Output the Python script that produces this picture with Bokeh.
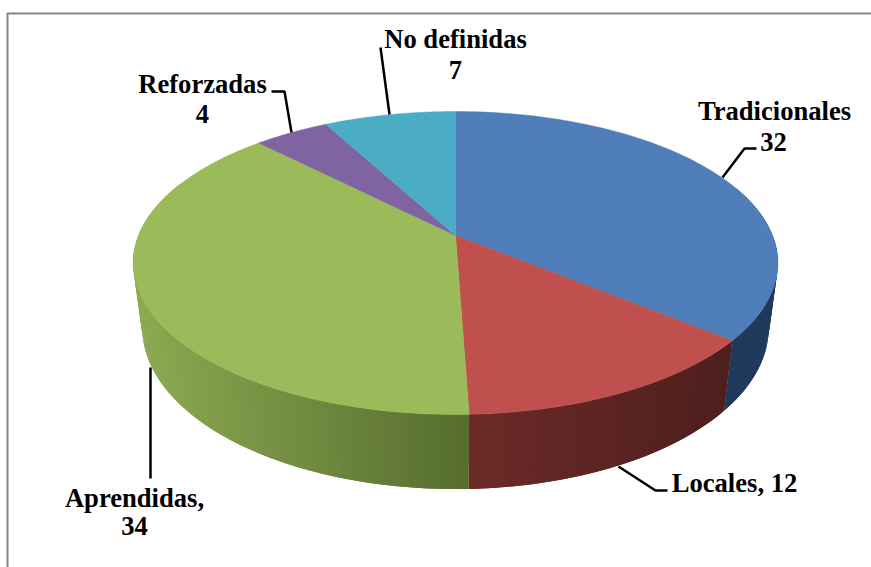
import numpy as np
from bokeh.plotting import figure
from bokeh.models import Range1d
from bokeh.core.properties import value
from bokeh.embed import file_html
from bokeh.resources import INLINE

# ---- data
categories = ["Tradicionales", "Locales", "Aprendidas", "Reforzadas", "No definidas"]
values = [32, 12, 34, 4, 7]
top_colors = ["#4F7EBA", "#BF504D", "#9BBA59", "#8064A2", "#4BACC6"]
wall_from = ["#1F3655", "#6B2A28", "#8DAA52", "#4A3A60", "#2B6575"]   # colour at the left end of a wall
wall_to = ["#203A5C", "#4E1F1D", "#566D2E", "#4A3A60", "#2B6575"]     # colour at the right end of a wall

# ---- label texts and placement (image pixels)
label_lines = ["Tradicionales", "32", "Locales, 12", "Aprendidas,", "34", "Reforzadas", "4", "No definidas", "7"]
label_x = [774, 773, 734, 134, 134, 202, 202, 455, 455]
label_y = [110, 141, 482, 497, 525, 83, 113, 38, 69]
leader_x = [[271, 284, 291], [380, 389], [756, 744, 722], [667, 655, 618], [150, 150]]
leader_y = [[91, 91, 132], [47, 114], [148, 148, 177], [490, 490, 466], [367, 478]]

W, H = 871, 567

# pie projection parameters (perspective view of a disc)
CX, K = 455.0, 0.1815
TOP_A, TOP_B, TOP_CY = 317.0, 146.5, 235.0
BOT_A, BOT_B, BOT_CY = 308.0, 156.0, 298.0


def project(theta, a, b, cy):
    u, v = np.sin(theta), np.cos(theta)
    d = 1 + K * v
    return CX + a * u / d, cy - b * v / d


def hex_rgb(c):
    return np.array([int(c[i:i + 2], 16) for i in (1, 3, 5)], dtype=float)


p = figure(width=W, height=H, output_backend="svg", toolbar_location=None,
           x_range=Range1d(0, W), y_range=Range1d(H, 0),
           min_border=0, outline_line_color=None, background_fill_color="white")
p.axis.visible = False
p.grid.visible = False

# frame of the chart area
p.line([7, 7, W], [H, 13, 13], line_color="#868686", line_width=2)

total = sum(values)
edges = 2 * np.pi * np.cumsum([0] + values) / total

# side walls: narrow quads shaded along x, each overlapped by the next
xs, ys, cols = [], [], []
for i in range(len(values)):
    n = max(2, int(np.degrees(edges[i + 1] - edges[i])))
    t = np.linspace(edges[i], edges[i + 1], n + 1)
    x0, y0 = project(t, TOP_A, TOP_B, TOP_CY)
    x1, y1 = project(t, BOT_A, BOT_B, BOT_CY)
    lo, hi = min(x0.min(), x1.min()), max(x0.max(), x1.max())
    ca, cb = hex_rgb(wall_from[i]), hex_rgb(wall_to[i])
    for j in range(n):
        if np.cos(t[j]) > 0.35 and np.cos(t[j + 1]) > 0.35:
            continue
        k = min(j + 2, n)
        f = ((x0[j] + x0[j + 1]) / 2 - lo) / (hi - lo)
        c = ca + (cb - ca) * f
        xs.append([x0[j], x0[k], x1[k], x1[j]])
        ys.append([y0[j], y0[k], y1[k], y1[j]])
        cols.append("#%02x%02x%02x" % tuple(int(round(q)) for q in c))
p.patches(xs, ys, fill_color=cols, line_color=None)

# top face
fx, fy = [], []
for i in range(len(values)):
    t = np.linspace(edges[i], edges[i + 1], 90)
    ax, ay = project(t, TOP_A, TOP_B, TOP_CY)
    fx.append([CX] + list(ax))
    fy.append([TOP_CY] + list(ay))
p.patches(fx, fy, fill_color=top_colors, line_color=top_colors, line_width=0.5)

# leaders and labels
p.multi_line(leader_x, leader_y, line_color="black", line_width=2.5)
p.text(label_x, label_y, text=label_lines, text_font=value("Liberation Serif"),
       text_font_style="bold", text_font_size="26.6px", text_color="black",
       text_align="center", text_baseline="middle")

open("out.html", "w").write(file_html(p, INLINE))
